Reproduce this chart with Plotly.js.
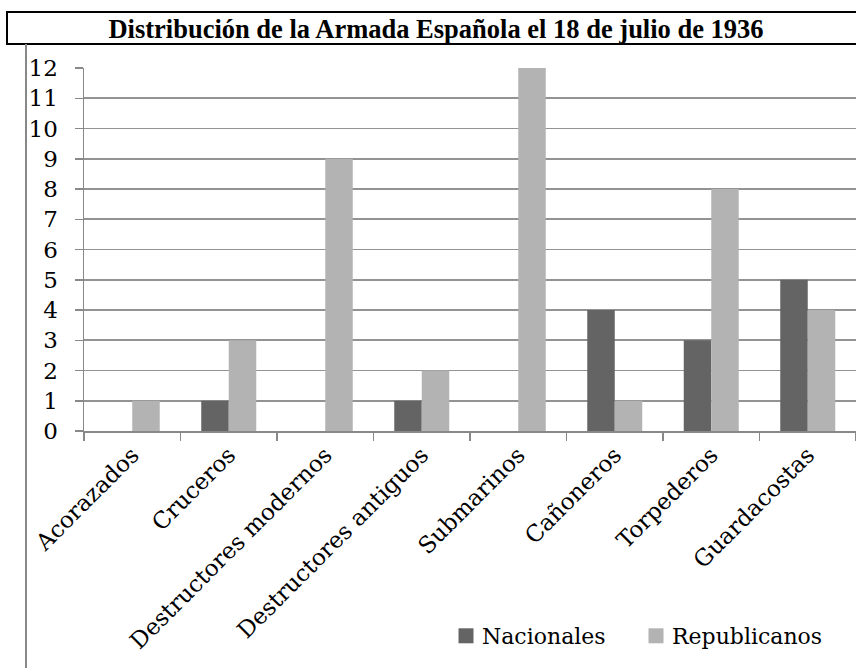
<!DOCTYPE html>
<html>
<head>
<meta charset="utf-8">
<script src="https://cdn.plot.ly/plotly-3.0.1.min.js"></script>
<style>html,body{margin:0;padding:0;background:#fff;}#chart{width:856px;height:668px;}</style>
</head>
<body>
<div id="chart"></div>
<script>
const categories = ["Acorazados", "Cruceros", "Destructores modernos", "Destructores antiguos", "Submarinos", "Cañoneros", "Torpederos", "Guardacostas"];
const nacionales = [0, 1, 0, 1, 0, 4, 3, 5];
const republicanos = [1, 3, 9, 2, 12, 1, 8, 4];
const yTicks = [0, 1, 2, 3, 4, 5, 6, 7, 8, 9, 10, 11, 12];
const chartTitle = "Distribución de la Armada Española el 18 de julio de 1936";

const serif = "DejaVu Serif";
const traces = [
  {type: "bar", name: "Nacionales", x: categories, y: nacionales, marker: {color: "#646464"}, hoverinfo: "none"},
  {type: "bar", name: "Republicanos", x: categories, y: republicanos, marker: {color: "#b3b3b3"}, hoverinfo: "none"}
];
const layout = {
  width: 856, height: 668,
  margin: {l: 84, r: 0, t: 68, b: 237},
  paper_bgcolor: "#fff", plot_bgcolor: "#fff",
  font: {family: serif, color: "#000"},
  barmode: "group", bargap: 0.43, bargroupgap: 0,
  showlegend: true,
  title: {text: "<b>" + chartTitle + "</b>", font: {family: "Liberation Serif", size: 26.5, color: "#000"},
          xref: "container", x: 436/856, xanchor: "center", yref: "container", y: 1 - 29/668, yanchor: "middle"},
  xaxis: {type: "category", tickson: "boundaries", ticks: "outside", ticklen: 8, tickcolor: "#888", tickwidth: 1.5,
          showline: true, linecolor: "#888", linewidth: 1.5, showgrid: false, tickangle: -45,
          tickfont: {family: serif, size: 23, color: "#000"}, fixedrange: true},
  yaxis: {range: [0, 12], tickvals: yTicks, ticktext: yTicks.map(String), ticks: "outside", ticklen: 8, tickcolor: "#888", tickwidth: 1.5,
          showline: true, linecolor: "#888", linewidth: 1.5, showgrid: true, gridcolor: "#939393", gridwidth: 1.6, zeroline: false,
          ticklabelstandoff: 12,
          tickfont: {family: serif, size: 23, color: "#000"}, fixedrange: true},
  legend: {orientation: "h", x: (442-84)/772, xanchor: "left", y: (431-636)/363, yanchor: "middle",
           font: {family: serif, size: 22, color: "#000"}, bgcolor: "rgba(0,0,0,0)", itemwidth: 30, entrywidth: 145},
  shapes: [
    {type: "rect", xref: "paper", yref: "paper", x0: (7-84)/772, x1: (870-84)/772, y0: (431-44)/363, y1: (431-12)/363,
     line: {color: "#000", width: 2}, fillcolor: "rgba(0,0,0,0)", layer: "above"},
    {type: "line", xref: "paper", yref: "paper", x0: (26-84)/772, x1: (26-84)/772, y0: (431-44)/363, y1: (431-700)/363,
     line: {color: "#888", width: 2}}
  ]
};
Plotly.newPlot("chart", traces, layout, {staticPlot: true, displayModeBar: false}).then(function (gd) {
  gd.querySelectorAll(".legendpoints path").forEach(function (p) {
    const t = p.getAttribute("transform") || "";
    p.setAttribute("transform", t + " translate(4,0) scale(1.25)");
  });
});
</script>
</body>
</html>
